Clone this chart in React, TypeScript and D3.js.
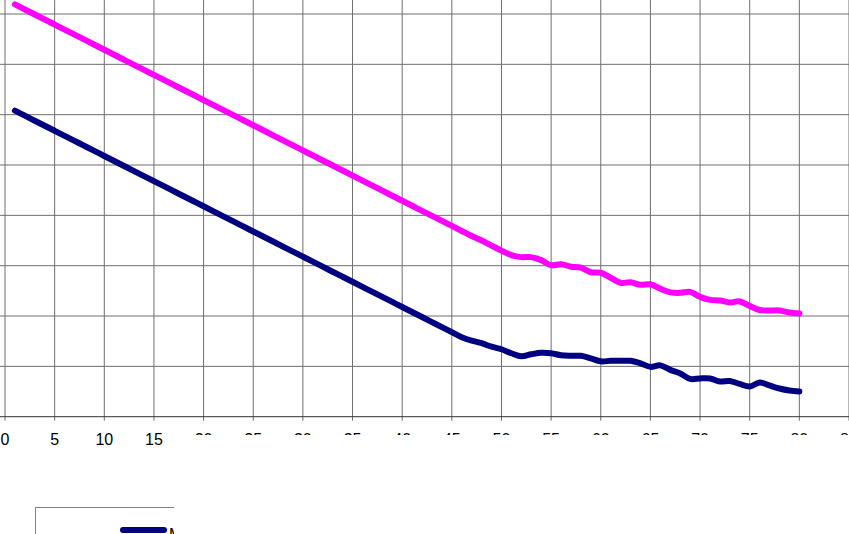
import React from 'react';
import * as d3 from 'd3';

// x positions 1..80, one value per step
const xValues = d3.range(1, 81);

// upper (magenta) series
const pinkValues = [
  81.9, 80.9, 79.9, 78.9, 77.9, 76.9, 75.9, 74.9, 73.9, 72.9,
  71.9, 70.9, 69.9, 68.9, 67.9, 66.9, 65.9, 64.9, 63.9, 62.9,
  61.9, 60.9, 59.9, 58.9, 57.9, 56.9, 55.9, 54.9, 53.9, 52.9,
  51.9, 50.9, 49.9, 48.9, 47.9, 46.9, 45.9, 44.9, 43.9, 42.9,
  41.9, 40.9, 39.9, 38.9, 37.9, 36.9, 35.9, 35.0, 34.0, 33.0,
  32.1, 31.7, 31.7, 31.1, 30.1, 30.3, 29.8, 29.6, 28.7, 28.6,
  27.6, 26.6, 26.7, 26.2, 26.3, 25.4, 24.7, 24.6, 24.8, 23.8,
  23.2, 23.1, 22.7, 22.9, 22.0, 21.2, 21.1, 21.1, 20.7, 20.5,
];

// lower (navy) series
const navyValues = [
  60.8, 59.8, 58.8, 57.8, 56.8, 55.8, 54.8, 53.8, 52.8, 51.8,
  50.8, 49.8, 48.8, 47.8, 46.8, 45.8, 44.8, 43.8, 42.8, 41.8,
  40.8, 39.8, 38.8, 37.8, 36.8, 35.8, 34.8, 33.8, 32.8, 31.8,
  30.8, 29.8, 28.8, 27.8, 26.8, 25.8, 24.8, 23.8, 22.8, 21.8,
  20.8, 19.8, 18.8, 17.8, 16.8, 15.8, 15.1, 14.6, 13.9, 13.4,
  12.6, 12.0, 12.4, 12.7, 12.6, 12.2, 12.1, 12.1, 11.6, 11.0,
  11.1, 11.1, 11.1, 10.6, 9.9, 10.2, 9.3, 8.6, 7.5, 7.6,
  7.6, 7.0, 7.1, 6.5, 6.0, 6.8, 6.2, 5.6, 5.2, 5.0,
];

const xTicks = d3.range(0, 90, 5);
const yGrid = d3.range(0, 90, 10);
const legendLabel = 'M';

const W = 849;
const H = 534;

const App = () => {
  const x = d3.scaleLinear().domain([0, 85]).range([5, 849]);
  const y = d3.scaleLinear().domain([0, 80]).range([416.7, 14]);

  const line = d3.line<number>()
    .x((_, i) => x(xValues[i]))
    .y(d => y(d))
    .curve(d3.curveCatmullRom.alpha(0.5));

  const font = '"Liberation Sans", Arial, sans-serif';

  return (
    <svg width={W} height={H} style={{ position: 'absolute', left: 0, top: 0, background: '#fff' }}>
      {/* vertical grid, with ticks below the axis */}
      {xTicks.map(t => (
        <line key={'v' + t} x1={x(t)} x2={x(t)} y1={0} y2={y(0) + 4}
          stroke="#6e6e6e" strokeWidth={1} />
      ))}
      {/* horizontal grid with left ticks */}
      {yGrid.map(t => (
        <line key={'h' + t} x1={0} x2={W} y1={y(t)} y2={y(t)}
          stroke={t === 0 ? '#333' : '#6e6e6e'} strokeWidth={1} />
      ))}

      {/* series */}
      <path d={line(navyValues) || ''} fill="none" stroke="#000080" strokeWidth={6}
        strokeLinecap="round" strokeLinejoin="round" />
      <path d={line(pinkValues) || ''} fill="none" stroke="#FF00FF" strokeWidth={6}
        strokeLinecap="round" strokeLinejoin="round" />

      {/* x tick labels */}
      {xTicks.map(t => (
        <text key={'l' + t} x={x(t)} y={445} textAnchor="middle" fontSize={16}
          fontFamily={font} fill="#000">{t}</text>
      ))}

      {/* legend */}
      <rect x={35.5} y={507.5} width={400} height={60} fill="#fff" stroke="#808080" strokeWidth={1} />
      <line x1={123} x2={164} y1={530} y2={530} stroke="#000080" strokeWidth={6} strokeLinecap="round" />
      <text x={169} y={540} fontSize={16} fontFamily={font} fill="#000">{legendLabel}</text>

      {/* white region covering the lower right */}
      <rect x={174} y={435} width={W} height={H} fill="#fff" />
    </svg>
  );
};

export default App;
